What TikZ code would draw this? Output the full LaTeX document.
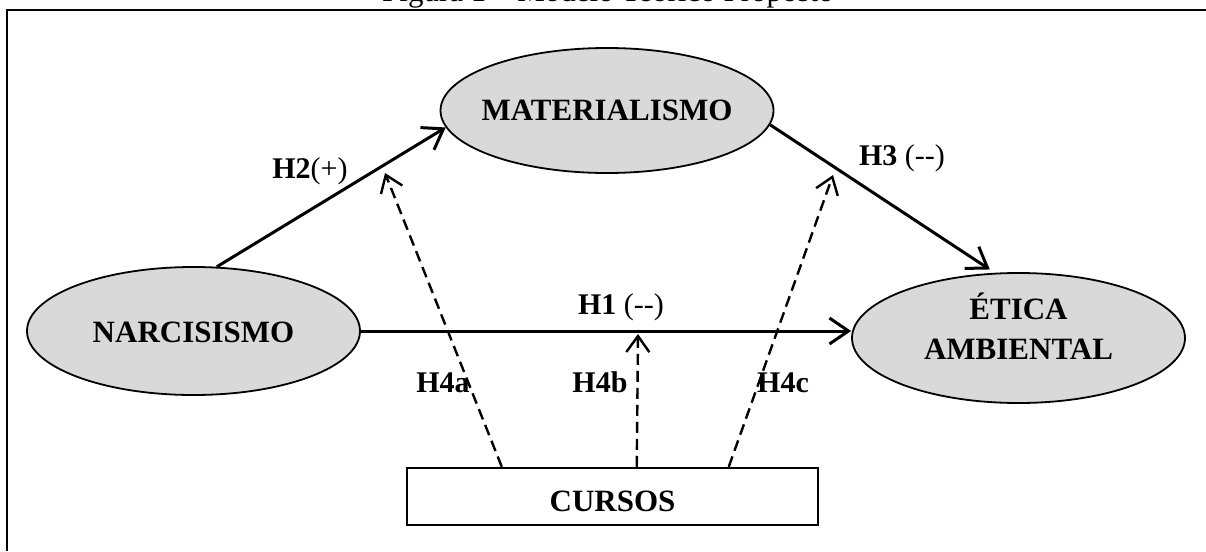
\documentclass[tikz,border=0pt]{standalone}
\usepackage{fontspec}
\setmainfont{Liberation Serif}
\usetikzlibrary{shapes.geometric,arrows.meta}

\begin{document}
\begin{tikzpicture}[x=1pt,y=-1pt,
  latent/.style={ellipse, draw, line width=1.8pt, fill=gray!30, inner sep=0pt,
    minimum width=333pt, align=center, font=\fontsize{31}{40}\selectfont\bfseries},
  effect/.style={line width=3pt, -{Straight Barb[length=19pt,width=26pt]}},
  moderation/.style={line width=2.4pt, dash pattern=on 11pt off 6pt,
    -{Straight Barb[length=16pt,width=23pt]}},
  hyp/.style={anchor=base, inner sep=0pt, font=\fontsize{30}{36}\selectfont}]

\useasboundingbox (0,0) rectangle (1206,551);
\clip (0,0) rectangle (1206,551);

% caption, cut off at the top
\node [anchor=base, font=\fontsize{31}{36}\selectfont] (title) at (608,1.5) {Figura 1 – Modelo Teórico Proposto};
\draw [line width=2pt]  (1206,10.5) -| (7,551);

% constructs
\node [latent, minimum height=125pt, inner xsep=-30pt] (mat) at (607,110.5) {MATERIALISMO};
\node [latent, minimum height=128pt, text height=24pt] (narc) at (193.5,331) {NARCISISMO};
\node [latent, minimum height=130pt, inner ysep=-3pt, text depth=24pt] (eti) at (1018.5,338) {ÉTICA\\AMBIENTAL};
\node [draw, line width=2.5pt, minimum width=411pt, minimum height=57pt, text height=31pt,
  font=\fontsize{31}{36}\selectfont\bfseries] (cur) at (612.5,496.5) {CURSOS};

% direct effects
\draw [effect]  (narc.70) -- (mat.186);
\draw [effect, shorten >=6pt]  (mat.355) -- (eti.110);
\draw [effect]  (narc.east) -- (narc.east -| eti.west);

% moderation by cursos
\coordinate (h4a) at (385,173);
\coordinate (h4b) at (638,334);
\coordinate (h4c) at (833,175);
\draw [moderation]  ([xshift=96pt]cur.north west) -- (h4a);
\draw [moderation]  ([xshift=231pt]cur.north west) -- (h4b);
\draw [moderation]  ([xshift=323pt]cur.north west) -- (h4c);

% labels
\node [hyp] (lh2) at (310,178) {\textbf{H2}(+)};
\node [hyp] (lh3) at (902,165) {\textbf{H3} (-{}-)};
\node [hyp] (lh1) at (621,314) {\textbf{H1} (-{}-)};
\node [hyp] (lh4a) at (443,392) {\textbf{H4a}};
\node [hyp] (lh4b) at (600,392) {\textbf{H4b}};
\node [hyp] (lh4c) at (783,392) {\textbf{H4c}};

\end{tikzpicture}
\end{document}
